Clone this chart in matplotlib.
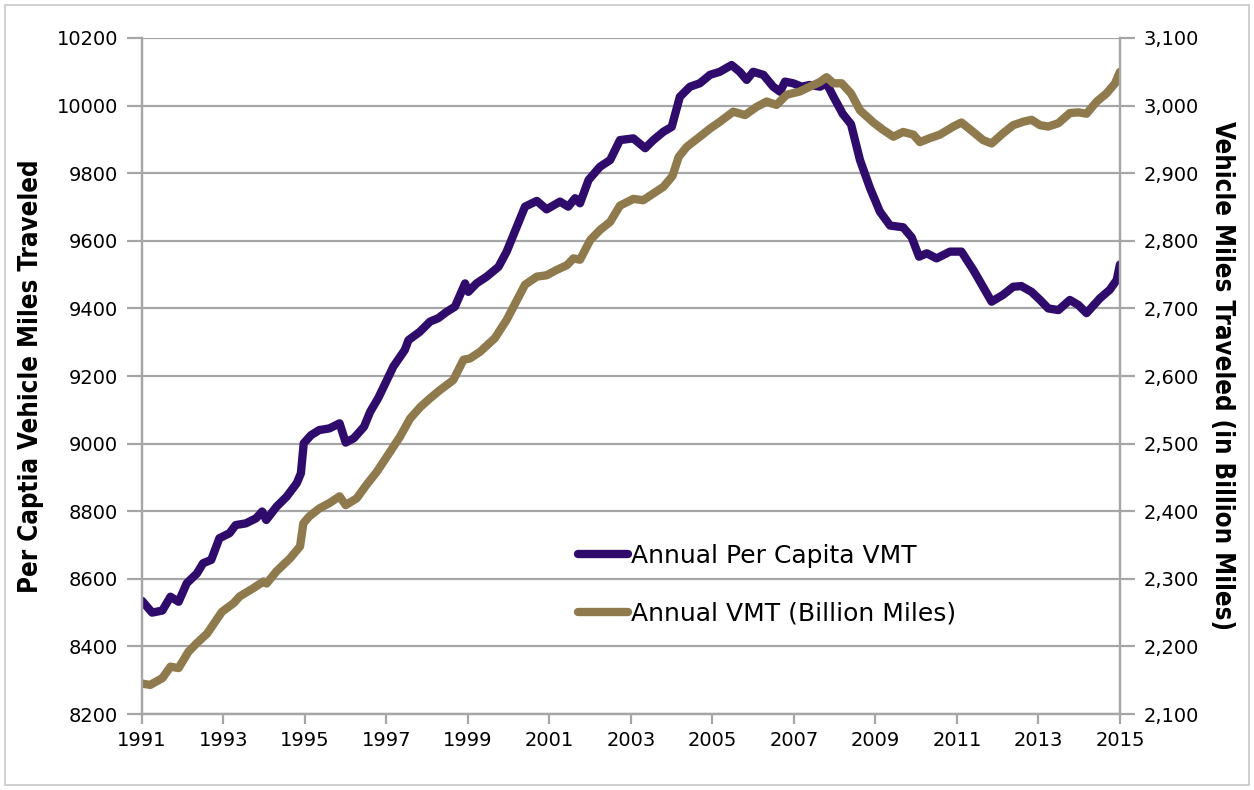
import matplotlib
matplotlib.use("Agg")
import matplotlib.pyplot as plt
from matplotlib.patches import Rectangle
from matplotlib.ticker import FuncFormatter

# per capita VMT (left axis)
pc_years = [1991.0, 1991.25, 1991.5, 1991.7, 1991.9, 1992.1, 1992.35, 1992.5, 1992.7, 1992.9,
            1993.15, 1993.3, 1993.55, 1993.8, 1993.95, 1994.05, 1994.3, 1994.55, 1994.8, 1994.9,
            1994.97, 1995.15, 1995.35, 1995.6, 1995.85, 1996.0, 1996.2, 1996.45, 1996.6, 1996.8,
            1997.17, 1997.45, 1997.54, 1997.82, 1998.07, 1998.27, 1998.48, 1998.68, 1998.93, 1999.01,
            1999.21, 1999.46, 1999.75, 1999.95, 2000.2, 2000.4, 2000.69, 2000.93, 2001.26, 2001.46,
            2001.63, 2001.75, 2001.96, 2002.24, 2002.49, 2002.73, 2003.06, 2003.35, 2003.55, 2003.8,
            2004.0, 2004.2, 2004.45, 2004.69, 2004.94, 2005.18, 2005.47, 2005.67, 2005.84, 2006.0,
            2006.25, 2006.49, 2006.66, 2006.78, 2006.98, 2007.19, 2007.39, 2007.64, 2007.8, 2007.97,
            2008.2, 2008.4, 2008.62, 2008.87, 2009.11, 2009.36, 2009.68, 2009.89, 2010.07, 2010.26,
            2010.5, 2010.83, 2011.11, 2011.4, 2011.64, 2011.85, 2012.13, 2012.38, 2012.58, 2012.83,
            2013.04, 2013.24, 2013.49, 2013.77, 2013.98, 2014.18, 2014.51, 2014.75, 2014.92, 2015.0]
per_capita = [8535, 8500, 8506, 8547, 8532, 8587, 8616, 8646, 8656, 8720,
              8735, 8759, 8764, 8779, 8799, 8774, 8813, 8843, 8883, 8912,
              9001, 9025, 9040, 9045, 9060, 9003, 9016, 9050, 9094, 9135,
              9228, 9277, 9306, 9331, 9361, 9371, 9390, 9405, 9474, 9449,
              9474, 9494, 9523, 9568, 9642, 9701, 9718, 9693, 9716, 9701,
              9726, 9711, 9780, 9819, 9839, 9898, 9903, 9874, 9898, 9923,
              9937, 10026, 10056, 10066, 10091, 10100, 10120, 10100, 10076, 10100,
              10091, 10056, 10041, 10071, 10066, 10056, 10061, 10056, 10066, 10026,
              9975, 9945, 9839, 9755, 9686, 9645, 9640, 9610, 9553, 9563,
              9548, 9568, 9568, 9514, 9464, 9420, 9440, 9464, 9466, 9449,
              9425, 9400, 9395, 9425, 9410, 9386, 9430, 9455, 9484, 9530]

# total VMT in billion miles (right axis)
vmt_years = [1991.0, 1991.2, 1991.5, 1991.7, 1991.9, 1992.14, 1992.35, 1992.6, 1992.96, 1993.25,
             1993.4, 1993.73, 1993.98, 1994.06, 1994.3, 1994.63, 1994.88, 1994.96, 1995.1, 1995.35,
             1995.6, 1995.85, 1996.0, 1996.27, 1996.51, 1996.76, 1997.09, 1997.33, 1997.58, 1997.83,
             1998.07, 1998.31, 1998.64, 1998.89, 1999.05, 1999.3, 1999.66, 1999.95, 2000.2, 2000.4,
             2000.69, 2000.93, 2001.18, 2001.43, 2001.59, 2001.75, 2002.0, 2002.24, 2002.49, 2002.73,
             2003.06, 2003.3, 2003.55, 2003.8, 2004.02, 2004.17, 2004.37, 2004.69, 2004.94, 2005.18,
             2005.51, 2005.8, 2006.08, 2006.33, 2006.57, 2006.82, 2007.15, 2007.39, 2007.64, 2007.8,
             2007.97, 2008.17, 2008.4, 2008.62, 2008.95, 2009.19, 2009.44, 2009.68, 2009.93, 2010.09,
             2010.34, 2010.58, 2010.91, 2011.11, 2011.4, 2011.64, 2011.85, 2012.13, 2012.38, 2012.62,
             2012.83, 2013.04, 2013.24, 2013.49, 2013.77, 2013.98, 2014.18, 2014.43, 2014.67, 2014.88,
             2015.0]
vmt = [2145, 2143, 2153, 2170, 2168, 2192, 2205, 2219, 2251, 2264,
       2274, 2286, 2296, 2293, 2311, 2330, 2348, 2382, 2392, 2404,
       2412, 2422, 2409, 2419, 2439, 2458, 2488, 2510, 2537, 2554,
       2567, 2579, 2594, 2624, 2626, 2636, 2656, 2683, 2712, 2735,
       2747, 2749, 2757, 2764, 2774, 2772, 2801, 2816, 2828, 2852,
       2862, 2860, 2870, 2880, 2896, 2924, 2939, 2954, 2966, 2976,
       2991, 2986, 2998, 3006, 3001, 3016, 3021, 3028, 3035, 3042,
       3033, 3033, 3018, 2993, 2975, 2964, 2954, 2961, 2957, 2946,
       2952, 2957, 2969, 2975, 2961, 2949, 2944, 2959, 2971, 2976,
       2979, 2971, 2969, 2974, 2989, 2990, 2988, 3006, 3018, 3033,
       3050]

left_ticks = list(range(8200, 10201, 200))
right_ticks = list(range(2100, 3101, 100))
year_ticks = list(range(1991, 2016, 2))

PURPLE = "#2f0b6c"
GOLD = "#8e7a4c"
GRID = "#a6a6a6"

fig = plt.figure(figsize=(12.54, 7.9), dpi=100)
fig.patches.append(Rectangle((0.004, 0.006), 0.992, 0.988, transform=fig.transFigure,
                             fill=False, edgecolor="#c8c8c8", linewidth=1.2))

ax = fig.add_axes([0.1132, 0.0962, 0.7799, 0.8557])
ax2 = ax.twinx()

l1, = ax.plot(pc_years, per_capita, color=PURPLE, lw=6, solid_capstyle="round",
              solid_joinstyle="round", label="Annual Per Capita VMT")
l2, = ax2.plot(vmt_years, vmt, color=GOLD, lw=6, solid_capstyle="round",
               solid_joinstyle="round", label="Annual VMT (Billion Miles)")

ax.set_xlim(1991, 2015)
ax.set_ylim(8200, 10200)
ax2.set_ylim(2100, 3100)
ax.set_xticks(year_ticks)
ax.set_yticks(left_ticks)
ax2.set_yticks(right_ticks)
ax2.yaxis.set_major_formatter(FuncFormatter(lambda v, p: f"{int(v):,}"))

ax.grid(axis="y", color=GRID, lw=1.6)
ax.set_axisbelow(True)
for a in (ax, ax2):
    for s in a.spines.values():
        s.set_color(GRID)
        s.set_linewidth(1.6)
    a.spines["top"].set_visible(False)
ax.tick_params(axis="both", colors=GRID, labelcolor="black", labelsize=14, width=1.6)
ax.tick_params(axis="y", length=11, pad=6)
ax.tick_params(axis="x", length=7, pad=5)
ax2.tick_params(axis="y", colors=GRID, labelcolor="black", labelsize=14, width=1.6, length=11, pad=6)

ax.set_ylabel("Per Captia Vehicle Miles Traveled", fontsize=18.5, fontweight="bold",
              fontstretch="condensed", labelpad=9)
ax2.set_ylabel("Vehicle Miles Traveled (in Billion Miles)", fontsize=18.5, fontweight="bold",
               fontstretch="condensed", rotation=270, labelpad=26)

ax2.legend(handles=[l1, l2], loc="upper left", bbox_to_anchor=(0.446, 0.252), frameon=False,
           fontsize=18, handlelength=2.0, handletextpad=0.12, labelspacing=1.35,
           borderaxespad=0, borderpad=0)

fig.savefig("out.png", dpi=100)
